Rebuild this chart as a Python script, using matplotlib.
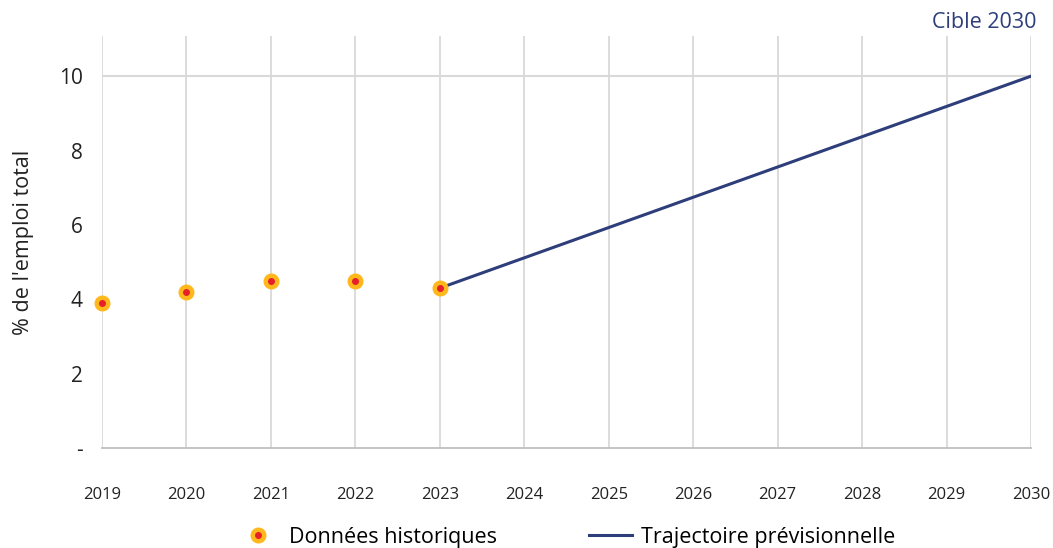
import numpy as np
from matplotlib import pyplot as plt
from matplotlib.lines import Line2D
from matplotlib.legend_handler import HandlerTuple

plt.rcParams['font.family'] = ['Open Sans', 'DejaVu Sans']

years = ['2019', '2020', '2021', '2022', '2023', '2024', '2025',
         '2026', '2027', '2028', '2029', '2030']
hist_years = ['2019', '2020', '2021', '2022', '2023']
hist_values = [3.9, 4.2, 4.5, 4.5, 4.3]
traj_years = ['2023', '2030']
traj_values = [4.3, 10.0]
ytick_vals = [0, 2, 4, 6, 8, 10]
ytick_labels = ['-', '2', '4', '6', '8', '10']

navy = '#2e3e7a'
orange = '#ffb81c'
red = '#e5202a'
grid = '#d9d9d9'

fig = plt.figure(figsize=(10.53, 5.48), dpi=100)
ax = fig.add_axes([102 / 1053, 1 - 448 / 548, (1031 - 102) / 1053, (448 - 36) / 548])

pos = {y: i for i, y in enumerate(years)}
hx = [pos[y] for y in hist_years]
tx = [pos[y] for y in traj_years]

for i in range(len(years)):
    ax.axvline(i, color=grid, lw=1.3, zorder=0)
ax.axhline(10, color=grid, lw=1.5, zorder=0)

ax.plot(tx, traj_values, color=navy, lw=2.2, zorder=2)
ax.plot(hx, hist_values, 'o', ms=10.5, color=orange, mec=orange, ls='none', zorder=3, clip_on=False)
ax.plot(hx, hist_values, 'o', ms=4, color=red, mec=red, ls='none', zorder=4, clip_on=False)

ax.set_xlim(0, len(years) - 1)
ax.set_ylim(0, 11.08)
ax.set_xticks(range(len(years)))
ax.set_xticklabels(years, fontsize=12, color='#222222')
ax.set_yticks(ytick_vals)
ax.set_yticklabels(ytick_labels, fontsize=15, color='#222222')
ax.tick_params(axis='x', length=0, pad=28)
ax.tick_params(axis='y', length=0, pad=14)
for s in ['top', 'right', 'left']:
    ax.spines[s].set_visible(False)
ax.spines['bottom'].set_color('#bfbfbf')
ax.spines['bottom'].set_linewidth(1.3)

ax.set_ylabel("% de l'emploi total", fontsize=15.5, color='#222222')
ax.yaxis.set_label_coords(-0.073, 0.5)

fig.text(1036 / 1053, 1 - 22 / 548, 'Cible 2030', ha='right', va='center',
         fontsize=15.5, color=navy)

h1 = (Line2D([], [], marker='o', ms=10.5, color=orange, mec=orange, ls='none'),
      Line2D([], [], marker='o', ms=4, color=red, mec=red, ls='none'))
h2 = Line2D([], [], color=navy, lw=2.2)
fig.legend([h1, h2], ['Données historiques', 'Trajectoire prévisionnelle'],
           handler_map={tuple: HandlerTuple(ndivide=1, pad=0)},
           loc='center', bbox_to_anchor=(566 / 1053, 1 - 537 / 548), ncol=2,
           frameon=False, fontsize=15.5, columnspacing=4.3, handlelength=2.0,
           handletextpad=0.4)

fig.savefig('out.png', dpi=100)
